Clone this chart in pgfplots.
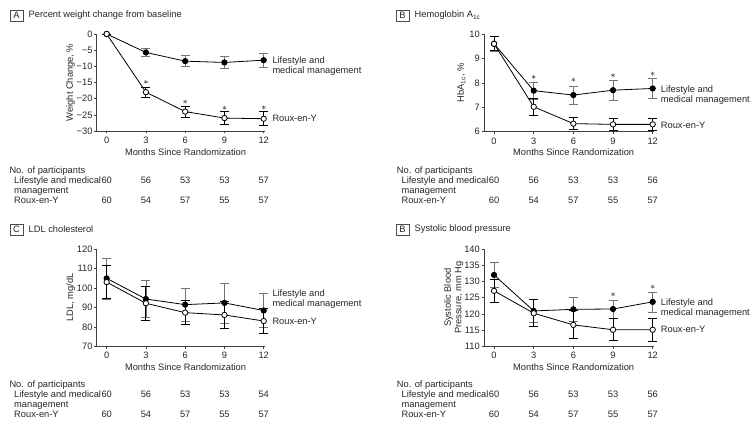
\documentclass[border=0pt]{standalone}
\usepackage{pgfplots}
\pgfplotsset{compat=1.18}
\usepackage{fontspec}
\setmainfont{Liberation Sans}
\newcommand{\fs}{\fontsize{9.3}{10.5}\selectfont}

\pgfplotsset{
  panel/.style={
    scale only axis, clip=false,
    axis lines*=left,
    xmin=-0.76, xmax=12.1,
    xtick={0,3,6,9,12},
    tick align=outside, major tick length=2.5pt,
    axis line style={black!75, line width=0.5pt},
    tick style={black!75, line width=0.5pt},
    every tick label/.append style={font=\fs, text=black!85},
    yticklabel style={inner xsep=1.5pt},
    /pgf/number format/assume math mode=true,
    label style={font=\fs, text=black!85},
    xlabel={Months Since Randomization},
    xlabel style={xshift=4.7pt, yshift=2pt},
  },
  life/.style={black, line width=0.8pt, mark=*, mark size=2.7pt,
    mark options={fill=black, solid},
    error bars/.cd, y dir=both, y explicit,
    error bar style={black!55, line width=0.5pt},
    error mark options={rotate=90, black!55, mark size=4.5pt, line width=0.5pt}},
  roux/.style={black, line width=0.8pt, mark=*, mark size=2.7pt,
    mark options={fill=white, solid},
    error bars/.cd, y dir=both, y explicit,
    error bar style={black, line width=0.9pt},
    error mark options={rotate=90, black, mark size=4.5pt, line width=0.9pt}},
  star/.style={only marks, mark=asterisk, mark size=2pt, black!65, line width=0.5pt},
}

% participants table: left x, vertical offset, x of month 0, px per 3 months, lifestyle, roux
\newcommand{\ptable}[6]{%
  \begin{scope}[font=\fs, text=black!85, every node/.style={text height=6.8pt, text depth=0pt, inner sep=0pt}]
    \node[anchor=west] at (#1, {428-#2-170}) {No. of participants};
    \node[anchor=west] at ({#1+4.7}, {428-#2-180}) {Lifestyle and medical};
    \node[anchor=west] at ({#1+4.7}, {428-#2-190}) {management};
    \node[anchor=west] at ({#1+4.7}, {428-#2-200}) {Roux-en-Y};
    \foreach \v [count=\i from 0] in {#5} {\node at ({#3+\i*#4}, {428-#2-180}) {\v};}
    \foreach \v [count=\i from 0] in {#6} {\node at ({#3+\i*#4}, {428-#2-200}) {\v};}
  \end{scope}}

\newcommand{\ptitle}[4]{%
  \node[draw=black!70, line width=0.4pt, minimum width=13pt, minimum height=11pt, inner sep=0pt,
        font=\fs, text=black!85] at (#1, {428-#3}) {#2};
  \node[anchor=west, inner sep=0pt, font=\fs, text=black!85] at ({#1+12}, {428-#3}) {#4};}

\newcommand{\slabels}[4]{%
  \node[anchor=west, align=left, inner sep=0pt, font=\fs, text=black!85] at (#1, {428-#2}) {Lifestyle and\\medical management};
  \node[anchor=west, inner sep=0pt, font=\fs, text=black!85] at (#1, {428-#3}) {Roux-en-Y};}

\begin{document}
\begin{tikzpicture}[x=1pt, y=1pt]
\path[use as bounding box] (0,0) rectangle (750,428);

% ---- A: weight change
\begin{axis}[panel, at={(96.7pt,297pt)}, anchor=south west, width=168.3pt, height=97pt,
  ymin=-30, ymax=0, ytick={-30,-25,...,0},
  yticklabels={−30,−25,−20,−15,−10,−5,0},
  ylabel={Weight Change, \%}, ylabel shift=-3pt]
\addplot+[life] coordinates {
  (0,0) +- (0,0)
  (3,-5.7) +- (0,1.2)
  (6,-8.4) +- (0,1.7)
  (9,-8.8) +- (0,1.9)
  (12,-8.1) +- (0,2.1)
};
\addplot+[roux] coordinates {
  (0,0) +- (0,0)
  (3,-18.0) +- (0,1.5)
  (6,-24.0) +- (0,1.7)
  (9,-26.0) +- (0,2.0)
  (12,-26.2) +- (0,2.2)
};
\addplot[star] coordinates {(3,-14.8) (6,-20.9) (9,-22.8) (12,-22.7)};
\end{axis}

% ---- B: HbA1c
\begin{axis}[panel, at={(484pt,296.3pt)}, anchor=south west, width=170pt, height=97.7pt,
  ymin=6, ymax=10, ytick={6,7,8,9,10},
  ylabel={HbA\textsubscript{1c}, \%}, ylabel shift=-1pt]
\addplot+[life] coordinates {
  (0,9.6) +- (0,0.3)
  (3,7.68) +- (0,0.35)
  (6,7.50) +- (0,0.38)
  (9,7.70) +- (0,0.41)
  (12,7.77) +- (0,0.41)
};
\addplot+[roux] coordinates {
  (0,9.6) +- (0,0.28)
  (3,7.02) +- (0,0.34)
  (6,6.33) +- (0,0.24)
  (9,6.30) +- (0,0.23)
  (12,6.30) +- (0,0.23)
};
\addplot[star] coordinates {(3,8.24) (6,8.13) (9,8.31) (12,8.38)};
\end{axis}

% ---- C: LDL
\begin{axis}[panel, at={(96.7pt,81.7pt)}, anchor=south west, width=168.3pt, height=97.3pt,
  ymin=70, ymax=120, ytick={70,80,...,120},
  ylabel={LDL, mg/dL}, ylabel shift=-3pt]
\addplot+[life] coordinates {
  (0,104.9) +- (0,10.6)
  (3,94.3) +- (0,9.4)
  (6,91.4) +- (0,8.5)
  (9,92.3) +- (0,10.2)
  (12,88.4) +- (0,8.8)
};
\addplot+[roux] coordinates {
  (0,103.0) +- (0,8.6)
  (3,92.1) +- (0,8.6)
  (6,87.3) +- (0,6.2)
  (9,86.1) +- (0,6.8)
  (12,83.0) +- (0,6.5)
};
\end{axis}

% ---- D: systolic BP
\begin{axis}[panel, at={(484pt,81.7pt)}, anchor=south west, width=170pt, height=97.3pt,
  ymin=110, ymax=140, ytick={110,115,...,140},
  ylabel={Systolic Blood\\Pressure, mm Hg}, ylabel style={align=center}, ylabel shift=-4pt]
\addplot+[life] coordinates {
  (0,132.0) +- (0,3.8)
  (3,120.9) +- (0,3.5)
  (6,121.4) +- (0,3.6)
  (9,121.5) +- (0,2.7)
  (12,123.7) +- (0,3.1)
};
\addplot+[roux] coordinates {
  (0,127.1) +- (0,3.5)
  (3,120.2) +- (0,4.1)
  (6,116.6) +- (0,4.3)
  (9,115.1) +- (0,3.4)
  (12,115.1) +- (0,3.6)
};
\addplot[star] coordinates {(9,126.0) (12,128.4)};
\end{axis}

% titles
\ptitle{16.5}{A}{15.5}{Percent weight change from baseline}
\ptitle{402.5}{B}{15.5}{Hemoglobin A\textsubscript{1c}}
\ptitle{16.5}{C}{229.5}{LDL cholesterol}
\ptitle{402.5}{B}{229.5}{Systolic blood pressure}

% series labels
\slabels{272.3}{66}{118.7}{}
\slabels{660.7}{95}{125.7}{}
\slabels{272.3}{299.3}{321.7}{}
\slabels{660.7}{308.3}{329.7}{}

% participant tables
\ptable{9.3}{0}{106.7}{39.25}{60,56,53,53,57}{60,54,57,55,57}
\ptable{396.7}{0}{494}{39.67}{60,56,53,53,56}{60,54,57,55,57}
\ptable{9.3}{214}{106.7}{39.25}{60,56,53,53,54}{60,54,57,55,57}
\ptable{396.7}{214}{494}{39.67}{60,56,53,53,56}{60,54,57,55,57}
\end{tikzpicture}
\end{document}
